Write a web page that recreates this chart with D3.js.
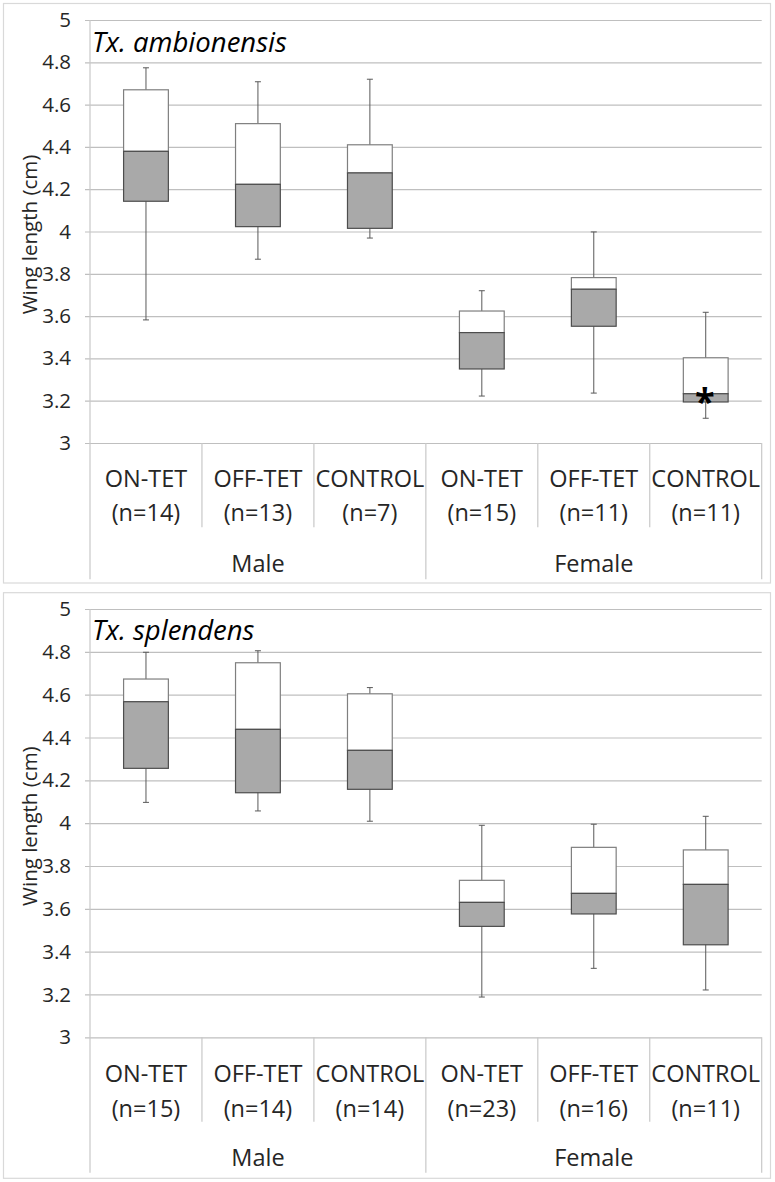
<!DOCTYPE html>
<html>
<head>
<meta charset="utf-8">
<script src="https://cdn.jsdelivr.net/npm/d3@7"></script>
<style>
  html, body { margin: 0; padding: 0; background: #fff; }
  svg { display: block; }
  text { font-family: "Open Sans", sans-serif; fill: #262626; }
</style>
</head>
<body>
<svg id="chart" width="775" height="1182"></svg>
<script>
// ---------- data ----------
const groups = ["Male", "Female"];
const treatments = ["ON-TET", "OFF-TET", "CONTROL"];
const yTicks = [3, 3.2, 3.4, 3.6, 3.8, 4, 4.2, 4.4, 4.6, 4.8, 5];
const yLabel = "Wing length (cm)";

// Tx. ambionensis
const ambTitle = "Tx. ambionensis";
const ambN      = [14, 13, 7, 15, 11, 11];
const ambMin    = [3.582, 3.869, 3.969, 3.222, 3.236, 3.117];
const ambQ1     = [4.143, 4.023, 4.015, 3.350, 3.552, 3.194];
const ambMedian = [4.379, 4.223, 4.277, 3.522, 3.727, 3.233];
const ambQ3     = [4.670, 4.510, 4.410, 3.624, 3.782, 3.403];
const ambMax    = [4.774, 4.708, 4.720, 3.720, 3.998, 3.618];
const ambMarks  = [{ index: 5, label: "*" }];

// Tx. splendens
const splTitle = "Tx. splendens";
const splN      = [15, 14, 14, 23, 16, 11];
const splMin    = [4.097, 4.057, 4.009, 3.188, 3.322, 3.221];
const splQ1     = [4.256, 4.142, 4.158, 3.518, 3.576, 3.432];
const splMedian = [4.567, 4.438, 4.340, 3.630, 3.672, 3.714];
const splQ3     = [4.673, 4.749, 4.604, 3.733, 3.887, 3.875];
const splMax    = [4.798, 4.805, 4.633, 3.990, 3.995, 4.032];
const splMarks  = [];

// ---------- drawing ----------
const svg = d3.select("#chart");
const plotLeft = 90, plotRight = 761.7;

function buildRows(n, mn, q1, md, q3, mx) {
  return n.map((d, i) => ({
    i, group: groups[Math.floor(i / treatments.length)],
    treatment: treatments[i % treatments.length],
    n: d, min: mn[i], q1: q1[i], median: md[i], q3: q3[i], max: mx[i]
  }));
}

function drawPanel(cfg) {
  const g = svg.append("g");
  // panel frame
  g.append("rect")
    .attr("x", 3.5).attr("y", cfg.frameTop)
    .attr("width", 767).attr("height", cfg.frameBottom - cfg.frameTop)
    .attr("fill", "#fff").attr("stroke", "#d9d9d9").attr("stroke-width", 1.2);

  const y = d3.scaleLinear().domain([3, 5]).range([cfg.yBottom, cfg.yTop]);
  const x = d3.scaleBand().domain(d3.range(cfg.rows.length)).range([plotLeft, plotRight]).padding(0);
  const bw = x.bandwidth();
  const boxW = bw * 0.4;

  // y axis with gridlines
  const axis = d3.axisLeft(y).tickValues(yTicks).tickFormat(d3.format("~g"))
    .tickSizeInner(-(plotRight - plotLeft)).tickSizeOuter(0).tickPadding(19);
  const ax = g.append("g").attr("transform", `translate(${plotLeft},0)`).call(axis);
  ax.select(".domain").remove();
  ax.selectAll(".tick line").attr("x1", -5).attr("stroke", "#bfbfbf").attr("stroke-width", 1.2);
  ax.selectAll(".tick text").attr("font-size", 20.5).attr("fill", "#404040")
    .style("font-family", "'Open Sans', sans-serif");

  // vertical dividers
  const base = cfg.yBottom;
  const dividers = d3.range(cfg.rows.length + 1);
  g.selectAll("line.div").data(dividers).enter().append("line")
    .attr("x1", d => d === cfg.rows.length ? plotRight : x(d))
    .attr("x2", d => d === cfg.rows.length ? plotRight : x(d))
    .attr("y1", d => d === 0 ? cfg.yTop : base)
    .attr("y2", d => (d % treatments.length === 0) ? base + cfg.groupDrop : base + cfg.catDrop)
    .attr("stroke", "#c8c8c8").attr("stroke-width", 1.2);

  // category labels
  const lab = g.selectAll("text.cat").data(cfg.rows).enter().append("text")
    .attr("text-anchor", "middle").attr("font-size", 23.5).attr("fill", "#262626");
  lab.append("tspan").attr("x", d => x(d.i) + bw / 2).attr("y", base + cfg.line1).text(d => d.treatment);
  lab.append("tspan").attr("x", d => x(d.i) + bw / 2).attr("y", base + cfg.line2).text(d => `(n=${d.n})`);

  // group labels
  g.selectAll("text.grp").data(groups).enter().append("text")
    .attr("text-anchor", "middle").attr("font-size", 23.5).attr("fill", "#262626")
    .attr("x", (d, k) => (x(k * 3) + (k * 3 + 3 >= cfg.rows.length ? plotRight : x(k * 3 + 3))) / 2)
    .attr("y", base + cfg.line3).text(d => d);

  // whiskers
  const bx = g.selectAll("g.box").data(cfg.rows).enter().append("g");
  bx.append("line")
    .attr("x1", d => x(d.i) + bw / 2).attr("x2", d => x(d.i) + bw / 2)
    .attr("y1", d => y(d.max)).attr("y2", d => y(d.min))
    .attr("stroke", "#595959").attr("stroke-width", 1);
  ["max", "min"].forEach(k => {
    bx.append("line")
      .attr("x1", d => x(d.i) + bw / 2 - 3).attr("x2", d => x(d.i) + bw / 2 + 3)
      .attr("y1", d => y(d[k])).attr("y2", d => y(d[k]))
      .attr("stroke", "#595959").attr("stroke-width", 1);
  });
  // upper (white) box
  bx.append("rect")
    .attr("x", d => x(d.i) + (bw - boxW) / 2).attr("width", boxW)
    .attr("y", d => y(d.q3)).attr("height", d => y(d.median) - y(d.q3))
    .attr("fill", "#ffffff").attr("stroke", "#7f7f7f").attr("stroke-width", 1.2);
  // lower (grey) box
  bx.append("rect")
    .attr("x", d => x(d.i) + (bw - boxW) / 2).attr("width", boxW)
    .attr("y", d => y(d.median)).attr("height", d => y(d.q1) - y(d.median))
    .attr("fill", "#a9a9a9").attr("stroke", "#4d4d4d").attr("stroke-width", 1.2);

  // annotations
  g.selectAll("text.mark").data(cfg.marks).enter().append("text")
    .attr("text-anchor", "middle").attr("font-size", 36).attr("font-weight", "bold")
    .style("fill", "#000")
    .attr("x", d => x(d.index) + bw / 2 - 1)
    .attr("y", d => y(cfg.rows[d.index].median) + 20)
    .text(d => d.label);

  // title
  g.append("text").attr("x", plotLeft + 2).attr("y", cfg.titleY)
    .attr("font-size", 27.5).attr("font-style", "italic").style("fill", "#000")
    .text(cfg.title);

  // y label
  g.append("text")
    .attr("transform", `translate(36.5,${(cfg.yTop + cfg.yBottom) / 2 + 3}) rotate(-90)`)
    .attr("text-anchor", "middle").attr("font-size", 20.5).attr("fill", "#404040")
    .text(yLabel);
}

drawPanel({
  title: ambTitle, rows: buildRows(ambN, ambMin, ambQ1, ambMedian, ambQ3, ambMax), marks: ambMarks,
  frameTop: 3.5, frameBottom: 583, yTop: 20, yBottom: 443, titleY: 52,
  line1: 43.5, line2: 77.5, line3: 128.5, catDrop: 84.3, groupDrop: 136.3
});
drawPanel({
  title: splTitle, rows: buildRows(splN, splMin, splQ1, splMedian, splQ3, splMax), marks: splMarks,
  frameTop: 592.7, frameBottom: 1178.3, yTop: 609, yBottom: 1037.3, titleY: 640,
  line1: 44.5, line2: 79.5, line3: 129, catDrop: 84.4, groupDrop: 135.4
});
</script>
</body>
</html>
